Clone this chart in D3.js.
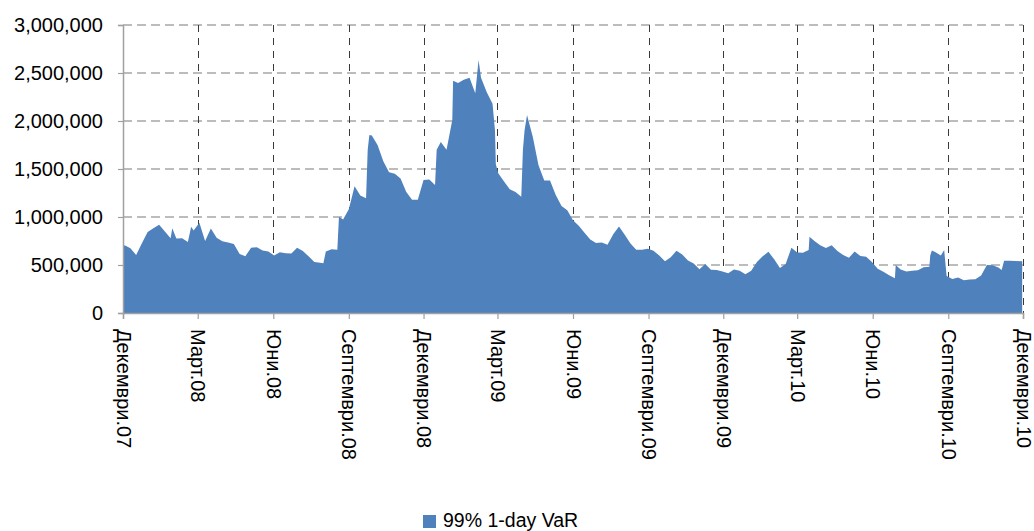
<!DOCTYPE html>
<html><head><meta charset="utf-8">
<script src="https://cdn.jsdelivr.net/npm/d3@7"></script>
<style>
body{margin:0;background:#fff}
svg{display:block}
text{font-family:"Liberation Sans",Arial,sans-serif;fill:#000}
</style>
</head><body>
<svg id="chart" width="1034" height="531"></svg>
<script>
// ---- data ----
const seriesName = "99% 1-day VaR";
const firstWeek = "2007-12-03"; // weekly observations (Mondays)
const varValues = [
  705000,675000,605000,726000,845000,882000,920000,850000,778000,775000,
  778000,740000,860000,941000,750000,880000,785000,748000,735000,720000,
  615000,592000,680000,685000,650000,640000,598000,632000,622000,620000,
  680000,645000,590000,530000,524000,640000,665000,658000,975000,1080000,
  1320000,1225000,1195000,1850000,1750000,1580000,1465000,1450000,1400000,1260000,
  1180000,1180000,1385000,1390000,1333000,1780000,1700000,2010000,2395000,2430000,
  2450000,2290000,2450000,2300000,2180000,1455000,1370000,1288000,1260000,1211000,
  2063000,1837000,1540000,1380000,1380000,1230000,1115000,1070000,965000,910000,
  835000,765000,730000,735000,710000,820000,900000,815000,725000,660000,
  660000,670000,648000,600000,540000,580000,648000,610000,548000,515000,
  455000,510000,450000,448000,433000,415000,452000,440000,403000,440000,
  530000,590000,637000,560000,470000,510000,680000,630000,628000,656000,
  750000,706000,677000,706000,645000,604000,575000,640000,593000,585000,
  530000,460000,430000,392000,361000,452000,431000,440000,445000,476000,
  483000,635000,600000,385000,353000,370000,340000,350000,352000,390000,
  500000,497000,475000,545000,545000,541000,538000
];
// additional daily observations around sharp moves
const extraDates = ["2007-12-01","2008-01-30","2008-02-22","2008-08-01","2008-08-20",
  "2008-09-24","2008-09-26","2008-12-17","2009-01-06","2009-02-06","2009-02-26",
  "2009-02-27","2009-04-01","2009-04-03","2010-03-16","2010-06-29","2010-08-10",
  "2010-08-12","2010-08-27","2010-11-05","2010-11-30"];
const extraValues = [690000,882000,899000,517000,1003000,
  1700000,1854000,1700000,2420000,2635000,1900000,
  1550000,1698000,1900000,795000,500000,600000,
  650000,656000,448000,541000];
const xTickDates = ["2007-12-01","2008-03-01","2008-06-01","2008-09-01","2008-12-01",
  "2009-03-01","2009-06-01","2009-09-01","2009-12-01","2010-03-01","2010-06-01",
  "2010-09-01","2010-12-01"];
const xTickLabels = ["Декември.07","Март.08","Юни.08","Септември.08","Декември.08",
  "Март.09","Юни.09","Септември.09","Декември.09","Март.10","Юни.10",
  "Септември.10","Декември.10"];
const yTickValues = [0,500000,1000000,1500000,2000000,2500000,3000000];

// ---- chart ----
const parse = d3.utcParse("%Y-%m-%d");
const start = parse(firstWeek);
const data = varValues.map((v,i)=>({date:d3.utcDay.offset(start,7*i), value:v}))
  .concat(extraDates.map((d,i)=>({date:parse(d), value:extraValues[i]})))
  .sort((a,b)=>a.date-b.date);
const ticks = xTickDates.map((d,i)=>({date:parse(d), label:xTickLabels[i]}));

const L=123, R=1023, T=25, B=313;
const svg = d3.select("#chart");
const x = d3.scaleUtc().domain([parse(xTickDates[0]), parse(xTickDates[xTickDates.length-1])]).range([L,R]);
const y = d3.scaleLinear().domain([0,3000000]).range([B,T]);

// horizontal gridlines
svg.append("g").selectAll("line").data(yTickValues.filter(v=>v>0)).join("line")
  .attr("x1",L).attr("x2",R).attr("y1",d=>y(d)).attr("y2",d=>y(d))
  .attr("stroke","#a6a6a6").attr("stroke-width",1.5).attr("stroke-dasharray","9,5");
// vertical gridlines
svg.append("g").selectAll("line").data(ticks.slice(1)).join("line")
  .attr("x1",d=>Math.round(x(d.date))+0.5).attr("x2",d=>Math.round(x(d.date))+0.5)
  .attr("y1",T).attr("y2",B)
  .attr("stroke","#3a3a3a").attr("stroke-width",1).attr("stroke-dasharray","7,6");

// area
const area = d3.area().x(d=>x(d.date)).y0(y(0)).y1(d=>y(d.value)).curve(d3.curveLinear);
svg.append("path").datum(data).attr("d",area).attr("fill","#4f81bd");

// y axis
const yAxis = svg.append("g").attr("transform",`translate(${L},0)`)
  .call(d3.axisLeft(y).tickValues(yTickValues).tickSize(5).tickPadding(15).tickFormat(d3.format(",")));
yAxis.select(".domain").attr("stroke","#a0a0a0").attr("stroke-width",1.5);
yAxis.selectAll(".tick line").attr("stroke","#a0a0a0").attr("stroke-width",1.2);
yAxis.selectAll(".tick text").attr("font-size",20).style("font-family",'"Liberation Sans",Arial,sans-serif').attr("fill","#000");

// x axis
const xAxis = svg.append("g").attr("transform",`translate(0,${B})`)
  .call(d3.axisBottom(x).tickValues(ticks.map(t=>t.date)).tickSize(6).tickFormat((d,i)=>xTickLabels[i]));
xAxis.select(".domain").attr("stroke","#a0a0a0").attr("stroke-width",1.5);
xAxis.selectAll(".tick line").attr("stroke","#a0a0a0").attr("stroke-width",1.2);
xAxis.selectAll(".tick text")
  .attr("font-size",20).style("font-family",'"Liberation Sans",Arial,sans-serif').attr("fill","#000")
  .attr("text-anchor","start").attr("x",0).attr("y",0).attr("dy","0.35em")
  .attr("transform","translate(0,16) rotate(90)");

// legend
const lg = svg.append("g");
lg.append("rect").attr("x",423).attr("y",515).attr("width",13).attr("height",13).attr("fill","#4f81bd");
lg.append("text").attr("x",443).attr("y",527).attr("font-size",19.5).text(seriesName);
</script>
</body></html>
